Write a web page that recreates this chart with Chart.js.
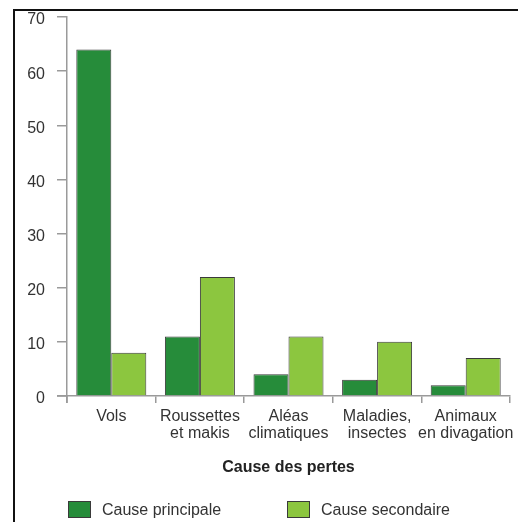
<!DOCTYPE html>
<html>
<head>
<meta charset="utf-8">
<script src="https://cdn.jsdelivr.net/npm/chart.js@4"></script>
<style>
  html, body { margin: 0; padding: 0; background: #fff; }
  #wrap { width: 518px; height: 522px; }
</style>
</head>
<body>
<div id="wrap"><canvas id="chart" width="518" height="522"></canvas></div>
<script>
const categories = [
  ["Vols"],
  ["Roussettes", "et makis"],
  ["Aléas", "climatiques"],
  ["Maladies,", "insectes"],
  ["Animaux", "en divagation"]
];
const principale = [64, 11, 4, 3, 2];
const secondaire = [8, 22, 11, 10, 7];
const seriesNames = ["Cause principale", "Cause secondaire"];
const yTicks = [0, 10, 20, 30, 40, 50, 60, 70];
const xTitle = "Cause des pertes";

const FONT = "'Liberation Sans', Arial, sans-serif";
const AXIS = "#9a9a9a";

// frame, axis overhangs and the legend at the bottom
const extras = {
  id: "extras",
  beforeDraw(chart) {
    const ctx = chart.ctx;
    ctx.save();
    ctx.strokeStyle = "#111";
    ctx.lineWidth = 2;
    ctx.beginPath();
    ctx.moveTo(14, 522);
    ctx.lineTo(14, 10);
    ctx.lineTo(518, 10);
    ctx.stroke();
    ctx.restore();
  },
  afterDraw(chart) {
    const ctx = chart.ctx;
    const a = chart.chartArea;
    ctx.save();
    ctx.strokeStyle = AXIS;
    ctx.lineWidth = 1.5;
    ctx.beginPath();
    ctx.moveTo(a.left - 10, a.bottom);
    ctx.lineTo(a.left, a.bottom);
    ctx.moveTo(a.left, a.bottom);
    ctx.lineTo(a.left, a.bottom + 7);
    ctx.stroke();

    const xs = [68, 287];
    chart.data.datasets.forEach((ds, i) => {
      ctx.fillStyle = ds.backgroundColor;
      ctx.strokeStyle = "#3a3a3a";
      ctx.lineWidth = 1;
      ctx.fillRect(xs[i], 501, 23, 17);
      ctx.strokeRect(xs[i] + 0.5, 501.5, 22, 16);
      ctx.fillStyle = "#333";
      ctx.font = "16px " + FONT;
      ctx.textBaseline = "middle";
      ctx.textAlign = "left";
      ctx.fillText(ds.label, xs[i] + 34, 511);
    });
    ctx.restore();
  }
};

new Chart(document.getElementById("chart"), {
  type: "bar",
  data: {
    labels: categories,
    datasets: [
      {
        label: seriesNames[0],
        data: principale,
        backgroundColor: "#268c3a",
        borderColor: "#3a3a3a",
        borderWidth: 1,
        categoryPercentage: 0.79,
        barPercentage: 1.0
      },
      {
        label: seriesNames[1],
        data: secondaire,
        backgroundColor: "#8cc63f",
        borderColor: "#3a3a3a",
        borderWidth: 1,
        categoryPercentage: 0.79,
        barPercentage: 1.0
      }
    ]
  },
  options: {
    responsive: false,
    animation: false,
    layout: { padding: { top: 17, right: 8, left: 0, bottom: 0 } },
    plugins: {
      legend: { display: false },
      tooltip: { enabled: false }
    },
    scales: {
      x: {
        grid: {
          offset: true,
          drawOnChartArea: false,
          drawTicks: true,
          tickLength: 7,
          color: AXIS,
          lineWidth: 1.5
        },
        border: { color: AXIS, width: 1.5 },
        ticks: {
          color: "#333",
          font: { family: FONT, size: 16, lineHeight: 1.08 },
          padding: 5,
          maxRotation: 0,
          autoSkip: false
        },
        title: {
          display: true,
          text: xTitle,
          color: "#222",
          font: { family: FONT, size: 16, weight: "bold" },
          padding: { top: 14, bottom: 45 }
        },
        afterFit(scale) {
          scale.height = 126;
          scale.paddingLeft = 0;
          scale.paddingRight = 0;
        }
      },
      y: {
        min: 0,
        max: 70,
        afterBuildTicks(scale) { scale.ticks = yTicks.map(v => ({ value: v })); },
        grid: {
          drawOnChartArea: false,
          drawTicks: true,
          tickLength: 10,
          color: AXIS,
          lineWidth: 1.5
        },
        border: { color: AXIS, width: 1.5 },
        ticks: {
          color: "#333",
          font: { family: FONT, size: 16 },
          padding: 12,
          labelOffset: 3
        },
        afterFit(scale) {
          scale.width = 67;
          scale.paddingTop = 0;
          scale.paddingBottom = 0;
        }
      }
    }
  },
  plugins: [extras]
});
</script>
</body>
</html>
